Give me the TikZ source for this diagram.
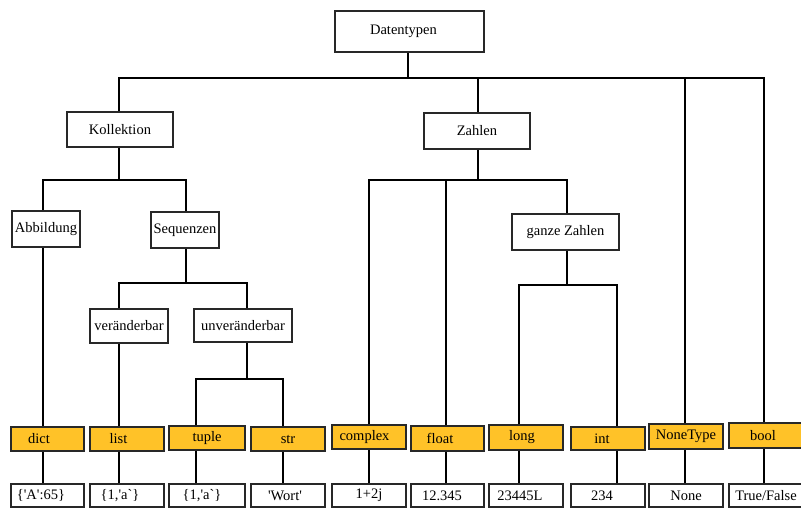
\documentclass[tikz,border=0pt]{standalone}
\usepackage{fontspec}
\setmainfont{Liberation Serif}[Ligatures=TeXOff]
\definecolor{typfill}{RGB}{255,194,40}
\definecolor{edgecol}{RGB}{40,40,40}
\newcommand\txtl[2]{#2\hspace*{#1}}
\begin{document}
\begin{tikzpicture}[x=1pt,y=-1pt,
  box/.style={draw=edgecol,line width=1.6pt,fill=white,inner sep=0pt,font=\fontsize{14.5}{16}\selectfont},
  typbox/.style={box,fill=typfill,minimum width=74pt,minimum height=24pt},
  valbox/.style={box,minimum width=74pt,minimum height=23pt},
  link/.style={line width=1.6pt,black}]
\useasboundingbox (0,0) rectangle (801,508);
\clip (0,0) rectangle (801,508);

% upper boxes
\node[box,minimum width=149pt,minimum height=41pt] (dt) at (409.5,31.5) {\txtl{12pt}{Datentypen}};
\node[box,minimum width=106pt,minimum height=35pt] (koll) at (120,129.5) {Kollektion};
\node[box,minimum width=106pt,minimum height=36pt] (zahl) at (477,131) {Zahlen};
\node[box,minimum width=68pt,minimum height=36pt] (abb) at (46,229) {Abbildung};
\node[box,minimum width=68pt,minimum height=36pt] (seq) at (185,230) {Sequenzen};
\node[box,minimum width=107pt,minimum height=36pt] (ganz) at (565.5,232) {ganze Zahlen};
\node[box,minimum width=78pt,minimum height=34pt] (ver) at (129,326) {veränderbar};
\node[box,minimum width=98pt,minimum height=33pt] (unv) at (243,325.5) {unveränderbar};

% type boxes
\node[typbox,minimum width=73pt] (tdict) at (47.5,439) {\txtl{17pt}{dict}};
\node[typbox] (tlist) at (127,439) {\txtl{17pt}{list}};
\node[typbox,minimum width=76pt] (ttuple) at (207,438) {tuple};
\node[typbox] (tstr) at (288,439) {str};
\node[typbox] (tcomplex) at (369,437) {\txtl{9pt}{complex}};
\node[typbox,minimum width=73pt,minimum height=25pt] (tfloat) at (447.5,438.5) {\txtl{15pt}{float}};
\node[typbox,minimum height=25pt] (tlong) at (526,437.5) {\txtl{8pt}{long}};
\node[typbox,minimum height=23pt] (tint) at (608,438.5) {\txtl{12pt}{int}};
\node[typbox,minimum height=25pt] (tnone) at (686,436.5) {NoneType};
\node[typbox,minimum height=25pt] (tbool) at (766,435.5) {\txtl{6pt}{bool}};

% value boxes
\node[valbox,minimum width=73pt] (vdict) at (47.5,495.5) {\txtl{13pt}{\{'A':65\}}};
\node[valbox] (vlist) at (127,495.5) {\txtl{14pt}{\{1,'a`\}}};
\node[valbox,minimum width=76pt] (vtuple) at (207,495.5) {\txtl{10pt}{\{1,'a`\}}};
\node[valbox] (vstr) at (288,495.5) {\txtl{6pt}{'Wort'}};
\node[valbox] (vcomplex) at (369,495.5) {1+2j};
\node[valbox,minimum width=73pt] (vfloat) at (447.5,495.5) {\txtl{11pt}{12.345}};
\node[valbox] (vlong) at (526,495.5) {\txtl{12pt}{23445L}};
\node[valbox] (vint) at (608,495.5) {\txtl{12pt}{234}};
\node[valbox] (vnone) at (686,495.5) {None};
\node[valbox] (vbool) at (766,495.5) {True/False};

% lanes
\coordinate (xA) at (43,0);
\coordinate (xK) at (119,0);
\coordinate (xS) at (186,0);
\coordinate (xU) at (247,0);
\coordinate (xT) at (196,0);
\coordinate (xSt) at (283,0);
\coordinate (xZ) at (478,0);
\coordinate (xC) at (369,0);
\coordinate (xF) at (446,0);
\coordinate (xG) at (567,0);
\coordinate (xLo) at (519,0);
\coordinate (xI) at (617,0);
\coordinate (xN) at (685,0);
\coordinate (xB) at (764,0);

% bus points
\coordinate (bus0) at (408,78);
\coordinate (kb) at (119,180);
\coordinate (sb) at (186,283);
\coordinate (ub) at (247,379);
\coordinate (zb) at (478,180);
\coordinate (gb) at (567,285);

% connectors
\draw[link] (dt.south -| bus0) -- (bus0);
\draw[link] (koll.north -| xK) |- (bus0) -| (tbool.north -| xB);
\draw[link] (zahl.north -| xZ) -- (xZ |- bus0);
\draw[link] (tnone.north -| xN) -- (xN |- bus0);

\draw[link] (koll.south -| kb) -- (kb);
\draw[link] (abb.north -| xA) |- (kb) -| (seq.north -| xS);
\draw[link] (abb.south -| xA) -- (tdict.north -| xA);

\draw[link] (seq.south -| sb) -- (sb);
\draw[link] (ver.north -| xK) |- (sb) -| (unv.north -| xU);
\draw[link] (ver.south -| xK) -- (tlist.north -| xK);

\draw[link] (unv.south -| ub) -- (ub);
\draw[link] (ttuple.north -| xT) |- (ub) -| (tstr.north -| xSt);

\draw[link] (zahl.south -| zb) -- (zb);
\draw[link] (tcomplex.north -| xC) |- (zb) -| (ganz.north -| xG);
\draw[link] (tfloat.north -| xF) -- (xF |- zb);

\draw[link] (ganz.south -| gb) -- (gb);
\draw[link] (tlong.north -| xLo) |- (gb) -| (tint.north -| xI);

% type -> value
\draw[link] (tdict.south -| xA) -- (vdict.north -| xA);
\draw[link] (tlist.south -| xK) -- (vlist.north -| xK);
\draw[link] (ttuple.south -| xT) -- (vtuple.north -| xT);
\draw[link] (tstr.south -| xSt) -- (vstr.north -| xSt);
\draw[link] (tcomplex.south -| xC) -- (vcomplex.north -| xC);
\draw[link] (tfloat.south -| xF) -- (vfloat.north -| xF);
\draw[link] (tlong.south -| xLo) -- (vlong.north -| xLo);
\draw[link] (tint.south -| xI) -- (vint.north -| xI);
\draw[link] (tnone.south -| xN) -- (vnone.north -| xN);
\draw[link] (tbool.south -| xB) -- (vbool.north -| xB);
\end{tikzpicture}
\end{document}
